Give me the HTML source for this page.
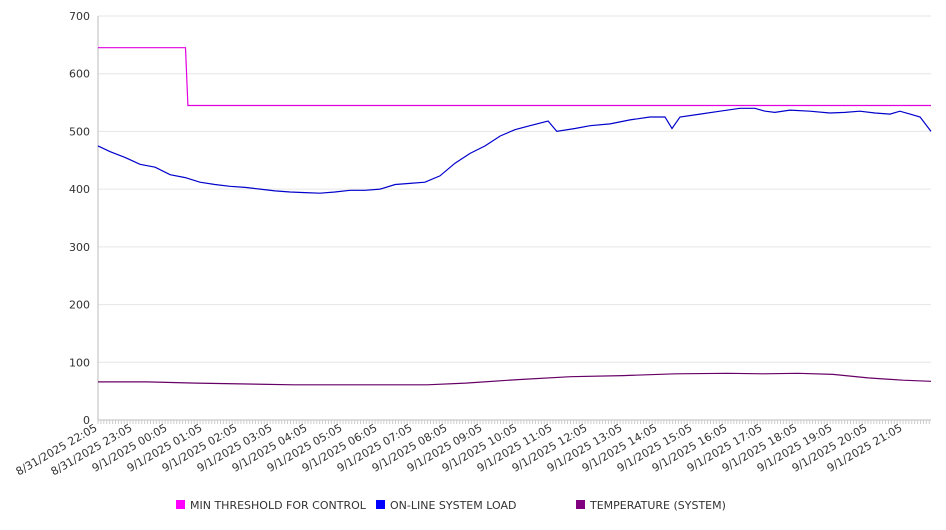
<!DOCTYPE html>
<html><head><meta charset="utf-8"><style>
body{margin:0;background:#fff;font-family:"DejaVu Sans","Liberation Sans",sans-serif;}
svg text{font-family:"DejaVu Sans","Liberation Sans",sans-serif;font-size:11px;fill:#333;}
</style></head><body>
<svg id="chart" width="946" height="526" xmlns="http://www.w3.org/2000/svg"></svg>
<script>
const yTicks=[0,100,200,300,400,500,600,700];
const xLabels=["8/31/2025 22:05","8/31/2025 23:05","9/1/2025 00:05","9/1/2025 01:05","9/1/2025 02:05","9/1/2025 03:05","9/1/2025 04:05","9/1/2025 05:05","9/1/2025 06:05","9/1/2025 07:05","9/1/2025 08:05","9/1/2025 09:05","9/1/2025 10:05","9/1/2025 11:05","9/1/2025 12:05","9/1/2025 13:05","9/1/2025 14:05","9/1/2025 15:05","9/1/2025 16:05","9/1/2025 17:05","9/1/2025 18:05","9/1/2025 19:05","9/1/2025 20:05","9/1/2025 21:05"];
const thrHours=[0,2.5,2.57,23.8];
const thrVals=[645,645,545,545];
const loadHours=[0,0.34,0.77,1.2,1.63,2.06,2.49,2.91,3.34,3.77,4.2,4.63,5.06,5.49,5.91,6.34,6.77,7.2,7.63,8.06,8.49,8.91,9.34,9.77,10.2,10.63,11.06,11.49,11.91,12.34,12.86,13.11,13.63,14.06,14.63,15.2,15.77,16.2,16.4,16.63,17.2,17.77,18.34,18.77,19.06,19.34,19.77,20.34,20.91,21.34,21.77,22.2,22.63,22.91,23.2,23.49,23.8];
const loadVals=[475,465,455,443,438,425,420,412,408,405,403,400,397,395,394,393,395,398,398,400,408,410,412,423,445,462,475,492,503,510,518,500,505,510,513,520,525,525,505,525,530,535,540,540,535,533,537,535,532,533,535,532,530,535,530,525,500];
const tempHours=[0,1.4,2.8,5.6,9.4,10.5,12,13.5,15,16.5,18,19,20,21,22,23,23.8];
const tempVals=[66,66,64,61,61,64,70,75,77,80,81,80,81,79,73,69,67];
const L=98,R=931,T=16,B=420,HMAX=23.8,SP=35;
const svg=document.getElementById('chart');const NS='http://www.w3.org/2000/svg';
function el(t,a,p){const e=document.createElementNS(NS,t);for(const k in a)e.setAttribute(k,a[k]);(p||svg).appendChild(e);return e;}
const xs=h=>L+h*SP, ys=v=>B-(v/700)*(B-T);
yTicks.forEach(v=>{
  if(v>0){const g=el('line',{x1:L,x2:R,y1:ys(v),y2:ys(v),stroke:'#e6e6e6'});}
  const t=el('text',{x:L-8,y:ys(v)+4,'text-anchor':'end'});t.textContent=v;
  
});
const ax=el('line',{x1:L,x2:L,y1:T,y2:B,stroke:'#bbb'});
const xa=el('line',{x1:L,x2:R,y1:B,y2:B,stroke:'#bbb'});
for(let m=0;m<=HMAX*60;m+=5){const tk=el('line',{x1:xs(m/60),x2:xs(m/60),y1:B,y2:B+4,stroke:'#ccc'});}
xLabels.forEach((s,i)=>{const x=xs(i);const t=el('text',{x:x,y:B+10,'text-anchor':'end',transform:`rotate(-30 ${x} ${B+10})`});t.textContent=s;
  });
function line(hs,vs,c,n){const d=hs.map((h,i)=>(i?'L':'M')+xs(h).toFixed(1)+','+ys(vs[i]).toFixed(1)).join('');
  const p=el('path',{d:d,fill:'none',stroke:c,'stroke-width':1.2});}
line(thrHours,thrVals,'#e000e0','min-threshold-line');
line(loadHours,loadVals,'#0000cc','system-load-line');
line(tempHours,tempVals,'#660066','temperature-line');
[['MIN THRESHOLD FOR CONTROL','#ff00ff',176],['ON-LINE SYSTEM LOAD','#0000ff',376],['TEMPERATURE (SYSTEM)','#800080',576]].forEach(([s,c,x])=>{
  const g=el('g',{});
  el('rect',{x:x,y:500,width:9,height:9,fill:c},g);const t=el('text',{x:x+14,y:509},g);t.textContent=s;});
</script></body></html>
